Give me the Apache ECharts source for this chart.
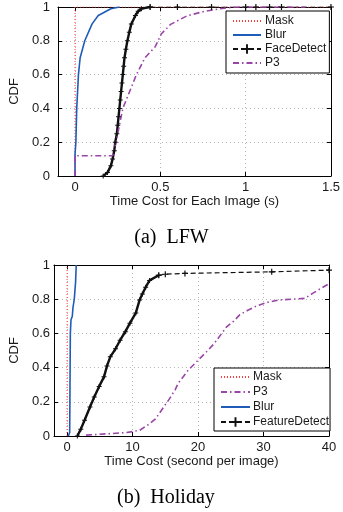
<!DOCTYPE html>
<html><head><meta charset="utf-8">
<script src="https://cdn.jsdelivr.net/npm/echarts@6/dist/echarts.min.js"></script>
<style>html,body{margin:0;padding:0;background:#fff}#c{width:343px;height:512px}</style>
</head><body><div id="c"></div>
<script>
// ---- tick labels ----
const yTicks = [0, 0.2, 0.4, 0.6, 0.8, 1];
const lfwXTicks = [0, 0.5, 1, 1.5];
const holXTicks = [0, 10, 20, 30, 40];

// ---- (a) LFW : [time (s), CDF] ----
const lfwMask = [[0, 0], [0, 1], [1.5, 1]];
const lfwBlur = [[0, 0], [0, 0.13], [0.005, 0.2], [0.01, 0.4], [0.02, 0.6], [0.03, 0.7], [0.057, 0.8], [0.1, 0.9], [0.136, 0.95], [0.21, 0.99], [0.26, 1]];
const lfwFaceDetect = [[0.165, 0], [0.19, 0.02], [0.21, 0.06], [0.22, 0.1], [0.23, 0.15], [0.236, 0.2], [0.245, 0.25], [0.25, 0.3], [0.255, 0.35], [0.26, 0.4], [0.265, 0.45], [0.27, 0.5], [0.275, 0.55], [0.28, 0.6], [0.285, 0.65], [0.29, 0.7], [0.298, 0.75], [0.307, 0.8], [0.318, 0.85], [0.33, 0.9], [0.354, 0.95], [0.37, 0.975], [0.39, 0.99], [0.44, 1], [0.6, 1], [0.8, 1], [1.0, 1], [1.06, 1], [1.14, 1], [1.21, 1], [1.5, 1]];
const lfwP3 = [[0, 0], [0, 0.12], [0.22, 0.12], [0.24, 0.2], [0.26, 0.3], [0.28, 0.4], [0.32, 0.5], [0.36, 0.6], [0.41, 0.7], [0.47, 0.765], [0.505, 0.84], [0.56, 0.897], [0.657, 0.948], [0.75, 0.972], [0.85, 0.99], [0.94, 1], [1.35, 1]];

// ---- (b) Holiday : [time (s per image), CDF] ----
const holMask = [[0, 0], [0, 1]];
const holP3 = [[2.9, 0.005], [9.1, 0.02], [11.07, 0.033], [12.55, 0.07], [13.5, 0.1], [15.5, 0.21], [16.5, 0.27], [17.0, 0.31], [18.5, 0.385], [20, 0.443], [21.5, 0.5], [22.45, 0.54], [24.4, 0.64], [25.4, 0.67], [26.4, 0.71], [27.6, 0.735], [28.9, 0.76], [30.4, 0.78], [32.3, 0.795], [34.3, 0.8], [36.3, 0.805], [37.5, 0.834], [38.8, 0.864], [40, 0.89]];
const holBlur = [[0.2, 0], [0.4, 0.02], [0.5, 0.6], [0.6, 0.68], [0.8, 0.7], [0.9, 0.75], [1.1, 0.8], [1.2, 0.85], [1.3, 0.9], [1.4, 1]];
const holFeatureDetect = [[1.57, 0], [2.1, 0.04], [2.67, 0.092], [3.5, 0.17], [4.15, 0.228], [4.9, 0.29], [5.64, 0.346], [6.1, 0.41], [6.6, 0.463], [7.4, 0.51], [8.1, 0.56], [8.9, 0.61], [9.6, 0.66], [10.5, 0.72], [11.07, 0.795], [11.5, 0.83], [12.0, 0.87], [12.6, 0.91], [14.0, 0.94], [15.0, 0.946], [18.0, 0.951], [31.25, 0.96], [40, 0.97]];

const lfwLegend = ['Mask', 'Blur', 'FaceDetect', 'P3'];
const holLegend = ['Mask', 'P3', 'Blur', 'FeatureDetect'];

// index where the dense rising part of each detector curve ends
const lfwFaceRiseEnd = 24;
const holFeatRiseEnd = 19;

const FONT = 'Liberation Sans, Arial, Helvetica, sans-serif';
const TXT = '#1a1a1a';
const plus = 'path://M4,0H6V4H10V6H6V10H4V6H0V4H4Z';

const styles = {
  Mask: { color: '#ff3b3b', type: [1, 2], width: 1, symbol: 'none' },
  Blur: { color: '#1f5cb8', type: 'solid', width: 1.6, symbol: 'none' },
  Detect: { color: '#111111', type: [5, 3], width: 1.2, symbol: plus, size: 6 },
  DetectDense: { color: '#111111', type: 'solid', width: 2.4, symbol: plus, size: 5 },
  P3: { color: '#9a45a8', type: [6, 3, 1.5, 3], width: 1.6, symbol: 'none' }
};

function mkSeries(name, styleKey, data, xi, yi) {
  const s = styles[styleKey];
  const marked = s.symbol === plus;
  return {
    type: 'line', name: name, data: data, xAxisIndex: xi, yAxisIndex: yi,
    symbol: s.symbol, symbolSize: s.size || 6, showSymbol: marked,
    color: s.color, itemStyle: { color: s.color },
    lineStyle: { color: s.color, type: s.type, width: s.width },
    animation: false, silent: true
  };
}
function legendItems(names) {
  return names.map(n => (n === 'FaceDetect' || n === 'FeatureDetect')
    ? { name: n }
    : { name: n, itemStyle: { opacity: 0 } });
}

function xMain(grid, min, max, ticks, name, gap, margin) {
  return {
    type: 'value', gridIndex: grid, min: min, max: max, position: 'bottom',
    name: name, nameLocation: 'middle', nameGap: gap,
    nameTextStyle: { fontFamily: FONT, fontSize: 13, color: TXT },
    axisLine: { show: true, onZero: false, lineStyle: { color: '#000', width: 1 } },
    axisTick: { show: true, inside: true, length: 4, customValues: ticks, lineStyle: { color: '#000' } },
    axisLabel: { customValues: ticks, margin: margin, fontFamily: FONT, fontSize: 13, color: TXT },
    splitLine: { show: true, lineStyle: { color: '#b5b5b5', type: [1, 3] } }
  };
}
function xTop(grid, min, max, ticks) {
  return {
    type: 'value', gridIndex: grid, min: min, max: max, position: 'top',
    axisLine: { show: true, onZero: false, lineStyle: { color: '#000' } },
    axisTick: { show: true, inside: true, length: 4, customValues: ticks, lineStyle: { color: '#000' } },
    axisLabel: { show: false }, splitLine: { show: false }
  };
}
function yMain(grid, gap, margin) {
  return {
    type: 'value', gridIndex: grid, min: 0, max: 1, interval: 0.2, position: 'left',
    name: 'CDF', nameLocation: 'middle', nameGap: gap, nameRotate: 90,
    nameTextStyle: { fontFamily: FONT, fontSize: 13, color: TXT },
    axisLine: { show: true, onZero: false, lineStyle: { color: '#000' } },
    axisTick: { show: true, inside: true, length: 4, lineStyle: { color: '#000' } },
    axisLabel: { margin: margin, fontFamily: FONT, fontSize: 13, color: TXT,
      formatter: v => String(yTicks.find(t => Math.abs(t - v) < 1e-9) ?? v) },
    splitLine: { show: true, lineStyle: { color: '#b5b5b5', type: [1, 3] } }
  };
}
function yRight(grid) {
  return {
    type: 'value', gridIndex: grid, min: 0, max: 1, interval: 0.2, position: 'right',
    axisLine: { show: true, onZero: false, lineStyle: { color: '#000' } },
    axisTick: { show: true, inside: true, length: 4, lineStyle: { color: '#000' } },
    axisLabel: { show: false }, splitLine: { show: false }
  };
}

const chart = echarts.init(document.getElementById('c'), null, { renderer: 'canvas' });
chart.setOption({
  animation: false,
  backgroundColor: '#fff',
  grid: [
    { left: 50, top: 7, width: 283, height: 169 },
    { left: 45, top: 265, width: 284, height: 171 }
  ],
  xAxis: [
    xMain(0, -0.1, 1.5, lfwXTicks, 'Time Cost for Each Image (s)', 18, 5),
    xTop(0, -0.1, 1.5, lfwXTicks),
    xMain(1, -2, 40, holXTicks, 'Time Cost (second per image)', 19, 5),
    xTop(1, -2, 40, holXTicks)
  ],
  yAxis: [yMain(0, 30, 8), yRight(0), yMain(1, 25, 4), yRight(1)],
  legend: [
    { data: legendItems(lfwLegend), orient: 'vertical', left: 226, top: 11, itemWidth: 28, itemHeight: 12, itemGap: 2,
      padding: [4, 3, 4, 6], borderColor: '#000', borderWidth: 1, backgroundColor: '#fff',
      textStyle: { fontFamily: FONT, fontSize: 12, color: TXT, padding: [0, 0, 0, -1] }, selectedMode: false },
    { data: legendItems(holLegend), orient: 'vertical', left: 214, top: 368, itemWidth: 29, itemHeight: 12, itemGap: 3,
      padding: [3, 1, 3, 6], borderColor: '#000', borderWidth: 1, backgroundColor: '#fff',
      textStyle: { fontFamily: FONT, fontSize: 12, color: TXT, padding: [0, 0, 0, -2] }, selectedMode: false }
  ],
  series: [
    mkSeries('Mask', 'Mask', lfwMask, 0, 0),
    mkSeries('Blur', 'Blur', lfwBlur, 0, 0),
    mkSeries('FaceDetect', 'Detect', lfwFaceDetect.slice(lfwFaceRiseEnd - 1), 0, 0),
    mkSeries('FaceDetect', 'DetectDense', lfwFaceDetect.slice(0, lfwFaceRiseEnd), 0, 0),
    mkSeries('P3', 'P3', lfwP3, 0, 0),
    mkSeries('Mask', 'Mask', holMask, 2, 2),
    mkSeries('Blur', 'Blur', holBlur, 2, 2),
    mkSeries('FeatureDetect', 'Detect', holFeatureDetect.slice(holFeatRiseEnd - 1), 2, 2),
    mkSeries('FeatureDetect', 'DetectDense', holFeatureDetect.slice(0, holFeatRiseEnd), 2, 2),
    mkSeries('P3', 'P3', holP3, 2, 2)
  ],
  graphic: [
    { type: 'text', left: 'center', top: 228, style: { text: '(a)  LFW', fontFamily: 'Liberation Serif, Times New Roman, serif', fontSize: 20, fill: '#000' }, x: -2 },
    { type: 'text', left: 117, top: 488, style: { text: '(b)  Holiday', fontFamily: 'Liberation Serif, Times New Roman, serif', fontSize: 20, fill: '#000' } }
  ]
});
</script></body></html>
